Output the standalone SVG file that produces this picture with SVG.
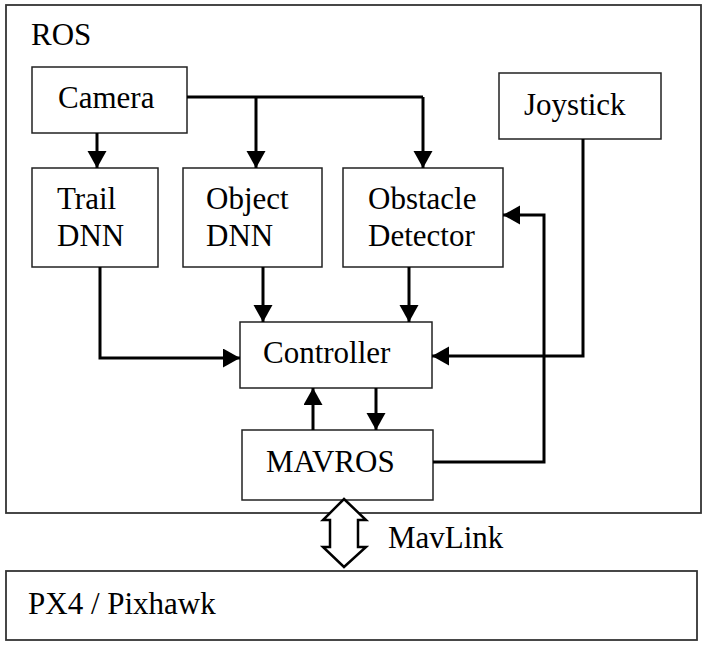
<svg xmlns="http://www.w3.org/2000/svg" width="709" height="646" viewBox="0 0 709 646">
<style>
.box{fill:#fff;stroke:#222;stroke-width:1.5}
.outer{fill:#fff;stroke:#333;stroke-width:1.8}
.t{font-family:"Liberation Serif","Times New Roman",serif;font-size:31px;fill:#000}
.c{fill:none;stroke:#000;stroke-width:3;marker-end:url(#ah)}
.cn{fill:none;stroke:#000;stroke-width:3}
</style>
<defs>
<marker id="ah" markerUnits="userSpaceOnUse" markerWidth="18" markerHeight="20" refX="17" refY="9.5" orient="auto">
<path d="M0,0 L17,9.5 L0,19 z" fill="#000"/>
</marker>
</defs>
<g id="ros"><rect class="outer" x="6" y="5" width="695" height="508"/><text class="t" x="31" y="45">ROS</text></g>
<g id="px4"><rect class="outer" x="6" y="571" width="691" height="69"/><text class="t" x="28" y="614">PX4 / Pixhawk</text></g>
<g id="camera"><rect class="box" x="32" y="67" width="155" height="66"/><text class="t" x="58" y="108">Camera</text></g>
<g id="joystick"><rect class="box" x="499" y="73" width="162" height="66"/><text class="t" x="524" y="115">Joystick</text></g>
<g id="trail"><rect class="box" x="32" y="168" width="126" height="99"/><text class="t" x="57" y="209">Trail</text><text class="t" x="57" y="246">DNN</text></g>
<g id="object"><rect class="box" x="183" y="168" width="139" height="99"/><text class="t" x="206" y="209">Object</text><text class="t" x="206" y="246">DNN</text></g>
<g id="obstacle"><rect class="box" x="343" y="168" width="160" height="99"/><text class="t" x="368" y="209">Obstacle</text><text class="t" x="368" y="246">Detector</text></g>
<g id="controller"><rect class="box" x="240" y="322" width="192" height="66"/><text class="t" x="263" y="363">Controller</text></g>
<g id="mavros"><rect class="box" x="242" y="430" width="191" height="70"/><text class="t" x="266" y="472">MAVROS</text></g>
<g id="connectors">
<path class="c" d="M97,133 V168"/>
<path class="cn" d="M187,97 H423"/>
<path class="c" d="M256,97 V168"/>
<path class="c" d="M423,97 V168"/>
<path class="c" d="M100,267 V358 H240"/>
<path class="c" d="M263,267 V322"/>
<path class="c" d="M409,267 V322"/>
<path class="c" d="M583,139 V356 H432"/>
<path class="c" d="M313,430 V388"/>
<path class="c" d="M376,388 V430"/>
<path class="c" d="M433,462 H544 V215 H503"/>
<polygon points="344,499 366,520 358,520 358,547 366,547 344,567 323,547 330,547 330,520 323,520" fill="#fff" stroke="#000" stroke-width="2.5" stroke-linejoin="miter"/>
<text class="t" x="388" y="548">MavLink</text>
</g>
</svg>
